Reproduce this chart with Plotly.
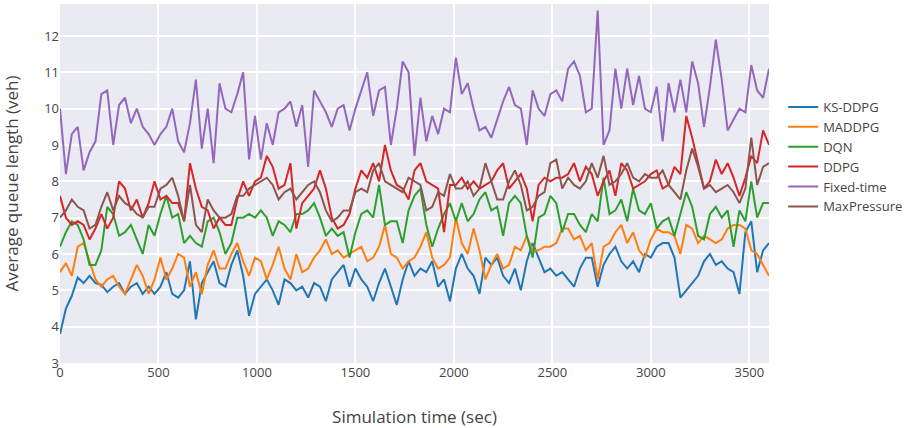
import plotly.graph_objects as go

# sampling grid (seconds)
time_sec = list(range(0, 3601, 30))

ks_ddpg = [3.8, 4.5, 4.85, 5.35, 5.2, 5.4, 5.2, 5.15, 4.95, 5.1, 5.2, 4.9, 5.1, 5.2, 4.9, 5.1, 4.9, 5.1, 5.5, 4.9, 4.8, 5.0, 5.8, 4.2, 5.2, 5.5, 5.8, 5.2, 5.1, 5.7, 6.1,
           5.4, 4.3, 4.9, 5.1, 5.3, 5.0, 4.6, 5.3, 5.2, 5.0, 5.1, 4.8, 5.2, 5.1, 4.7, 5.3, 5.5, 5.7, 5.1, 5.6, 5.3, 5.1, 4.7, 5.2, 5.6, 5.1, 4.6, 5.3, 5.8, 5.4,
           5.6, 5.5, 5.8, 5.1, 5.3, 4.7, 5.6, 6.0, 5.6, 5.4, 4.9, 5.9, 5.7, 5.9, 5.4, 5.2, 5.6, 5.0, 5.8, 6.3, 5.9, 5.5, 5.6, 5.4, 5.5, 5.3, 5.1, 5.6, 5.9, 5.9,
           5.1, 5.7, 6.0, 6.2, 5.8, 5.6, 5.8, 5.5, 6.0, 5.9, 6.2, 6.3, 6.3, 5.9, 4.8, 5.0, 5.2, 5.4, 5.8, 6.0, 5.7, 5.8, 5.6, 5.5, 4.9, 6.6, 6.9, 5.5, 6.1, 6.3]

maddpg = [5.5, 5.75, 5.4, 6.2, 6.3, 5.8, 5.3, 5.1, 5.3, 5.4, 5.1, 4.9, 5.3, 5.7, 5.4, 4.9, 5.3, 5.9, 5.3, 5.6, 6.0, 5.9, 5.1, 5.5, 4.9, 5.7, 6.1, 5.6, 5.6, 6.0, 6.3,
          5.8, 5.4, 5.9, 5.8, 5.3, 5.7, 6.2, 5.6, 5.3, 6.0, 5.5, 5.6, 5.9, 6.1, 6.4, 6.0, 6.1, 5.9, 6.0, 6.1, 6.2, 5.8, 5.9, 6.2, 6.8, 6.0, 5.9, 5.6, 5.8, 5.9,
          6.2, 6.6, 5.9, 5.6, 5.7, 5.9, 7.0, 6.3, 6.0, 6.7, 6.1, 5.3, 5.7, 6.0, 5.6, 5.7, 6.2, 6.1, 6.5, 6.1, 6.1, 6.2, 6.2, 6.3, 6.7, 6.7, 6.4, 6.5, 6.1, 6.3,
          5.3, 6.2, 6.3, 6.6, 6.8, 6.3, 6.6, 6.1, 5.9, 6.4, 6.7, 6.6, 6.6, 6.5, 6.0, 6.8, 6.7, 6.3, 6.5, 6.4, 6.3, 6.4, 6.7, 6.8, 6.8, 6.7, 6.1, 6.0, 5.7, 5.4]

dqn = [6.2, 6.6, 6.9, 6.8, 6.4, 5.7, 5.7, 6.1, 7.3, 7.1, 6.5, 6.6, 6.8, 6.4, 6.0, 6.8, 6.5, 7.1, 7.6, 7.0, 7.1, 6.3, 6.5, 6.3, 6.2, 6.9, 7.0, 6.6, 6.0, 6.3, 7.0,
       7.0, 7.1, 7.0, 7.2, 7.0, 6.5, 6.9, 6.8, 6.6, 7.1, 7.1, 7.2, 7.4, 7.0, 6.5, 6.7, 6.5, 6.6, 5.9, 6.6, 7.1, 7.2, 7.0, 7.9, 6.8, 6.9, 6.9, 6.3, 7.2, 7.6,
       7.8, 6.8, 6.2, 6.7, 7.1, 7.4, 6.9, 7.4, 6.9, 7.1, 7.5, 7.7, 7.2, 7.3, 6.5, 7.4, 7.6, 7.4, 6.5, 5.9, 7.0, 7.1, 7.6, 7.4, 6.6, 7.1, 7.1, 6.8, 6.6, 7.1,
       6.9, 8.1, 7.1, 7.2, 7.5, 6.9, 7.8, 7.2, 7.1, 7.4, 6.7, 6.9, 7.0, 6.5, 7.1, 7.7, 7.3, 6.5, 6.4, 7.1, 7.3, 7.0, 7.2, 6.2, 7.2, 6.9, 8.0, 7.0, 7.4, 7.4]

ddpg = [7.6, 7.0, 6.8, 6.9, 6.8, 6.4, 6.7, 7.1, 6.7, 7.0, 8.0, 7.8, 7.2, 7.5, 7.0, 7.4, 8.0, 7.5, 7.6, 7.4, 7.4, 6.9, 8.5, 7.8, 7.3, 7.2, 6.7, 7.0, 6.8, 6.8, 7.5,
        8.0, 7.6, 8.0, 8.1, 8.7, 8.4, 7.8, 7.9, 8.5, 6.7, 7.4, 7.6, 7.8, 8.3, 7.8, 7.0, 6.7, 6.8, 7.1, 7.8, 8.3, 8.1, 8.5, 8.0, 9.0, 8.3, 7.9, 7.8, 7.5, 8.3,
        8.5, 8.0, 7.9, 7.8, 6.6, 7.9, 7.9, 8.1, 7.8, 8.0, 7.8, 7.9, 8.0, 8.3, 8.5, 7.8, 8.0, 8.2, 7.8, 6.9, 7.9, 8.1, 8.0, 8.1, 8.1, 8.2, 8.5, 8.0, 8.4, 8.2,
        7.6, 8.0, 8.3, 7.6, 8.5, 8.3, 7.8, 7.9, 8.0, 8.2, 8.3, 7.8, 7.9, 8.4, 8.2, 9.8, 9.2, 8.5, 7.8, 8.0, 8.6, 8.2, 8.5, 8.1, 7.6, 8.1, 8.7, 8.5, 9.4, 9.0]

fixed_time = [10.0, 8.2, 9.3, 9.5, 8.3, 8.8, 9.1, 10.4, 10.5, 9.0, 10.1, 10.3, 9.6, 10.0, 9.5, 9.3, 9.0, 9.3, 9.5, 10.0, 9.1,
              8.8, 9.6, 10.8, 8.9, 10.0, 8.5, 10.7, 10.0, 9.9, 10.4, 11.0, 8.6, 9.8, 8.6, 9.6, 9.0, 9.9, 10.0, 10.2, 9.5,
              10.1, 8.4, 10.5, 10.2, 9.9, 9.5, 10.0, 10.1, 9.4, 10.0, 10.5, 11.0, 9.8, 10.5, 10.6, 9.0, 10.0, 11.3, 11.0, 8.7,
              10.3, 9.1, 9.8, 9.3, 10.0, 9.9, 11.4, 10.4, 10.7, 10.0, 9.4, 9.5, 9.2, 9.7, 10.2, 10.6, 10.1, 10.0, 9.0, 10.5,
              10.0, 9.8, 10.4, 10.5, 10.2, 11.1, 11.3, 10.9, 9.9, 10.0, 12.7, 9.0, 9.4, 11.1, 10.0, 11.1, 10.1, 10.9, 10.0, 9.9,
              10.6, 9.1, 10.7, 9.9, 10.8, 9.9, 11.3, 10.7, 9.5, 10.6, 11.9, 10.8, 9.4, 9.7, 10.0, 9.9, 11.2, 10.5, 10.3, 11.1]

max_pressure = [7.0, 7.2, 7.5, 7.3, 7.2, 6.7, 6.8, 7.3, 7.7, 7.2, 7.6, 7.4, 7.3, 7.1, 7.0, 7.3, 7.3, 7.8, 7.9, 8.1, 7.6, 6.9, 7.9, 6.8, 6.6, 7.5, 7.2, 7.0, 7.0, 7.1, 7.6,
                7.6, 7.8, 7.9, 8.0, 8.1, 7.9, 7.5, 7.7, 7.8, 7.5, 7.7, 7.9, 8.0, 7.7, 7.2, 6.9, 7.0, 7.2, 7.2, 7.7, 7.8, 7.7, 8.3, 8.5, 8.0, 7.9, 7.8, 7.7, 8.1, 8.0,
                7.9, 7.2, 7.3, 7.7, 7.6, 8.2, 7.8, 7.8, 8.0, 7.6, 7.8, 8.5, 8.0, 7.5, 7.5, 8.0, 8.3, 7.9, 7.2, 7.3, 7.6, 7.7, 8.5, 8.6, 7.8, 8.1, 7.9, 7.8, 8.0, 8.5,
                8.1, 8.7, 7.9, 8.0, 8.2, 8.5, 8.1, 8.0, 8.2, 8.1, 8.1, 8.3, 7.9, 7.7, 7.5, 8.3, 8.9, 8.4, 7.8, 7.9, 7.7, 7.8, 7.9, 7.7, 7.4, 7.8, 9.2, 7.9, 8.4, 8.5]

series_names = ["KS-DDPG", "MADDPG", "DQN", "DDPG", "Fixed-time", "MaxPressure"]
series_values = [ks_ddpg, maddpg, dqn, ddpg, fixed_time, max_pressure]
series_colors = ["#1f77b4", "#ff7f0e", "#2ca02c", "#d62728", "#9467bd", "#8c564b"]

fig = go.Figure()
for name, vals, color in zip(series_names, series_values, series_colors):
    fig.add_trace(go.Scatter(x=time_sec[:len(vals)], y=vals, mode="lines", name=name,
                             line=dict(color=color, width=2)))

fig.update_layout(
    width=909, height=428,
    margin=dict(l=60, r=140, t=4, b=65, autoexpand=False),
    plot_bgcolor="#EAEAF2", paper_bgcolor="white",
    font=dict(family="Open Sans", size=13, color="#444"),
    legend=dict(x=1.02, xanchor="left", y=0.755, yanchor="top", font=dict(size=13),
                tracegroupgap=0),
    xaxis=dict(range=[0, 3600], dtick=500, gridcolor="white", gridwidth=1.5, zeroline=False,
               showline=False, ticks="", automargin=False, tickfont=dict(size=13),
               title=dict(text="Simulation time (sec)", font=dict(size=17), standoff=35)),
    yaxis=dict(range=[3, 12.88], dtick=1, gridcolor="white", gridwidth=1.5, zeroline=False,
               showline=False, ticks="", automargin=False, tickfont=dict(size=13),
               title=dict(text="Average queue length (veh)", font=dict(size=17), standoff=23)),
)

fig.write_html("out.html", config={"displayModeBar": False},
               post_script="document.body.style.margin='0px';document.body.style.overflow='hidden';")
